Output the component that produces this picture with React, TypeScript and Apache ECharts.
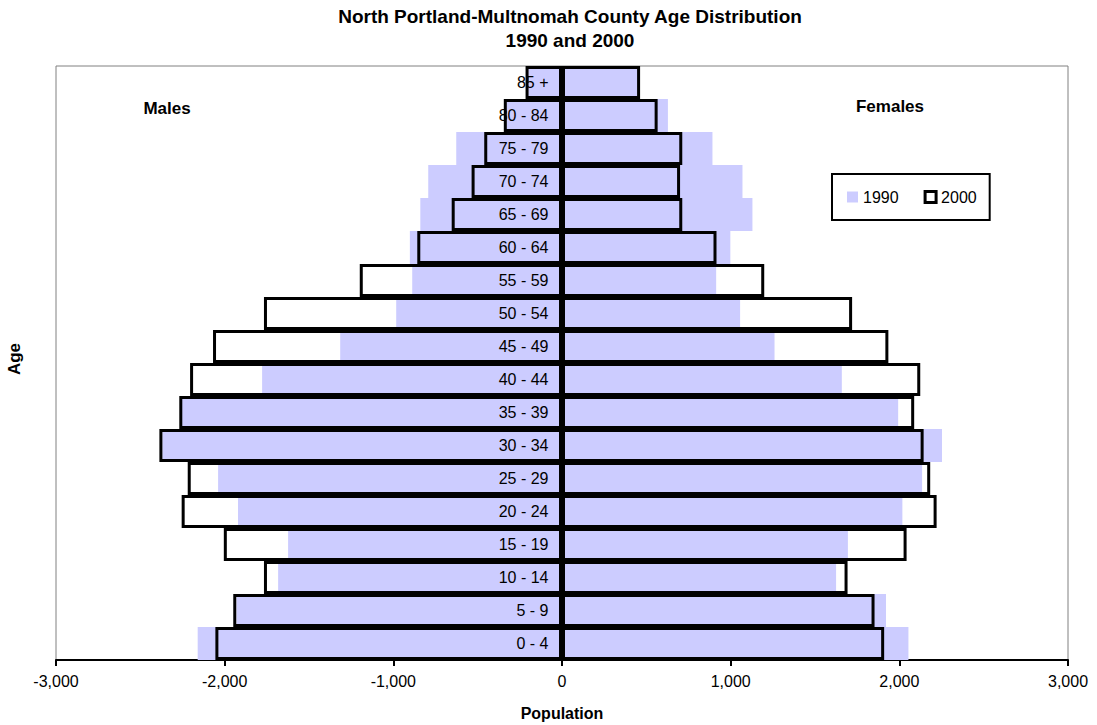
import React, { useEffect, useRef } from "react";
import * as echarts from "echarts";

const ageGroups = ["0 - 4", "5 - 9", "10 - 14", "15 - 19", "20 - 24", "25 - 29", "30 - 34", "35 - 39", "40 - 44", "45 - 49", "50 - 54", "55 - 59", "60 - 64", "65 - 69", "70 - 74", "75 - 79", "80 - 84", "85 +"];
const males1990 = [2160, 1930, 1683, 1624, 1921, 2039, 2370, 2255, 1778, 1315, 983, 888, 902, 840, 793, 627, 330, 200];
const females1990 = [2054, 1921, 1625, 1695, 2018, 2135, 2253, 1993, 1659, 1260, 1056, 914, 998, 1129, 1070, 892, 628, 450];
const males2000 = [2055, 1949, 1767, 2005, 2255, 2219, 2387, 2269, 2205, 2069, 1767, 1199, 858, 654, 536, 461, 345, 216];
const females2000 = [1910, 1853, 1693, 2043, 2221, 2183, 2144, 2088, 2124, 1935, 1720, 1199, 916, 713, 700, 713, 567, 463];
const xTicks = { min: -3000, max: 3000, interval: 1000 };

const FONT = "'Liberation Sans', Arial, sans-serif";

export default function App() {
  const ref = useRef<HTMLDivElement>(null);
  useEffect(() => {
    if (!ref.current) return;
    const chart = echarts.init(ref.current, null, { renderer: "svg" });
    const fill = "#CCCCFF";
    const barBase = { type: "bar", barGap: "-100%", barCategoryGap: "0%" };
    const centered = { align: "center", verticalAlign: "middle", textAlign: "center", textVerticalAlign: "middle" };
    const option: any = {
      animation: false,
      backgroundColor: "#ffffff",
      textStyle: { fontFamily: FONT },
      grid: {
        left: 56, right: 29, top: 66, bottom: 65,
        containLabel: false, outerBoundsMode: "none",
        show: true, borderColor: "#808080", borderWidth: 1, backgroundColor: "transparent",
      },
      legend: {
        left: 832,
        top: 174,
        orient: "horizontal",
        selectedMode: false,
        borderColor: "#000",
        borderWidth: 2,
        padding: [15, 13, 15, 15],
        itemWidth: 11,
        itemHeight: 11,
        itemGap: 25,
        textStyle: { fontFamily: FONT, fontSize: 16, color: "#000" },
        data: [
          { name: "1990", icon: "rect", itemStyle: { color: fill, borderWidth: 0 } },
          { name: "2000", icon: "rect", itemStyle: { color: "#fff", borderColor: "#000", borderWidth: 3 } },
        ],
      },
      xAxis: {
        type: "value",
        min: xTicks.min,
        max: xTicks.max,
        interval: xTicks.interval,
        name: "Population",
        nameLocation: "middle",
        nameGap: 45,
        nameTextStyle: { fontFamily: FONT, fontSize: 16, fontWeight: "bold", color: "#000" },
        axisLine: { show: true, onZero: false, lineStyle: { color: "#000", width: 2 } },
        axisTick: { show: true, length: 6, lineStyle: { color: "#000", width: 2 } },
        splitLine: { show: false },
        axisLabel: {
          margin: 13,
          fontFamily: FONT,
          fontSize: 16,
          color: "#000",
          formatter: (v: number) => v.toLocaleString("en-US"),
        },
      },
      yAxis: {
        type: "category",
        data: ageGroups,
        axisLine: { show: false },
        axisTick: { show: false },
        splitLine: { show: false },
        axisLabel: { show: false },
      },
      series: [
        { ...barBase, name: "1990", data: males1990.map((v) => -v), itemStyle: { color: fill } },
        { ...barBase, name: "1990", data: females1990, itemStyle: { color: fill } },
        { ...barBase, name: "2000", data: males2000.map((v) => -v), itemStyle: { color: "transparent", borderColor: "#000", borderWidth: 3 } },
        { ...barBase, name: "2000", data: females2000, itemStyle: { color: "transparent", borderColor: "#000", borderWidth: 3 } },
        {
          type: "scatter",
          name: "ageLabels",
          silent: true,
          z: 10,
          symbol: "rect",
          symbolSize: 1,
          itemStyle: { color: "transparent", opacity: 0 },
          data: ageGroups.map((c) => [0, c]),
          label: {
            show: true,
            position: "left",
            distance: 13,
            fontFamily: FONT,
            fontSize: 16,
            color: "#000",
            opacity: 1,
            formatter: (p: any) => p.value[1],
          },
        },
      ],
      graphic: [
        { type: "text", x: 570, y: 16, style: { text: "North Portland-Multnomah County Age Distribution", font: `bold 19px ${FONT}`, fill: "#000", ...centered } },
        { type: "text", x: 570, y: 40, style: { text: "1990 and 2000", font: `bold 19px ${FONT}`, fill: "#000", ...centered } },
        { type: "text", x: 167, y: 108, style: { text: "Males", font: `bold 17px ${FONT}`, fill: "#000", ...centered } },
        { type: "text", x: 890, y: 106, style: { text: "Females", font: `bold 17px ${FONT}`, fill: "#000", ...centered } },
        { type: "text", x: 14, y: 359, rotation: Math.PI / 2, style: { text: "Age", font: `bold 17px ${FONT}`, fill: "#000", ...centered } },
      ],
    };
    chart.setOption(option);
    return () => chart.dispose();
  }, []);
  return <div ref={ref} style={{ position: "fixed", left: 0, top: 0, width: 1097, height: 725 }} />;
}
